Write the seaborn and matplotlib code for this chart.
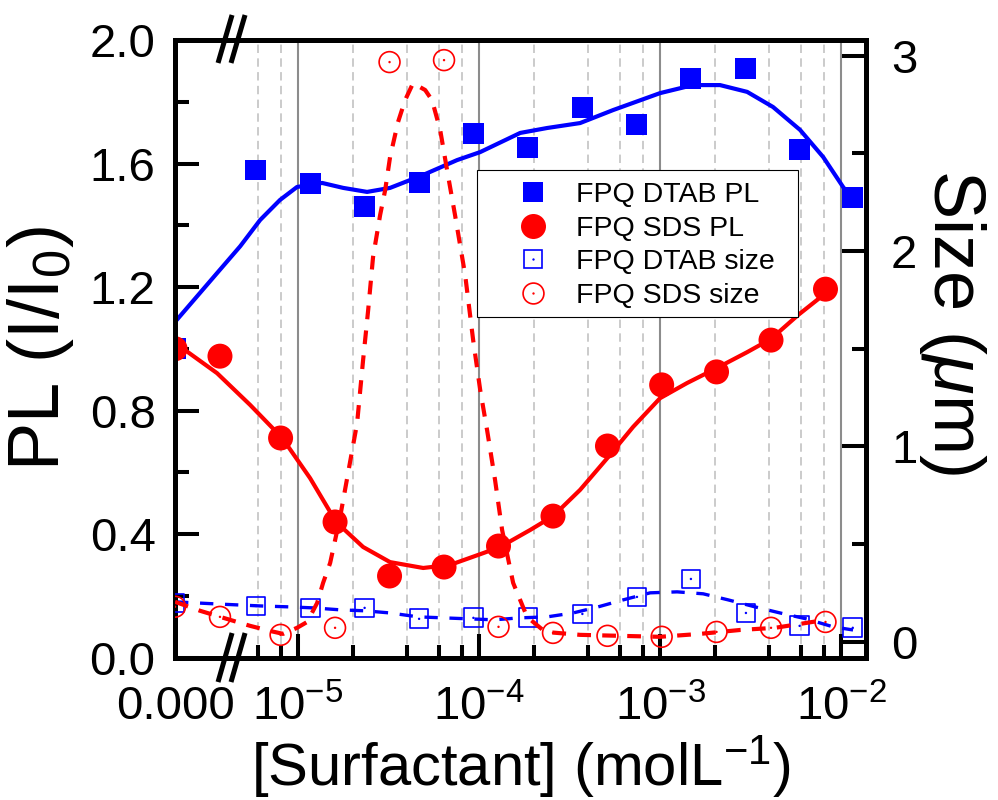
import numpy as np
import matplotlib.pyplot as plt
import matplotlib.ticker as mticker
from matplotlib.lines import Line2D
from matplotlib.patches import Rectangle
import seaborn as sns

# surfactant concentration (mol/L), 0 = no surfactant
dtab_conc = [0, 5.85e-6, 1.17e-5, 2.33e-5, 4.66e-5, 9.3e-5, 1.86e-4, 3.72e-4,
             7.45e-4, 1.48e-3, 2.98e-3, 5.9e-3, 1.16e-2]
sds_conc = [0, 3.7e-6, 8.0e-6, 1.6e-5, 3.2e-5, 6.4e-5, 1.28e-4, 2.56e-4,
            5.12e-4, 1.02e-3, 2.05e-3, 4.1e-3, 8.2e-3]

# PL (I/I0), left axis
dtab_pl = [1.00, 1.579, 1.534, 1.462, 1.537, 1.696, 1.653, 1.781, 1.725,
           1.874, 1.909, 1.644, 1.491]
sds_pl = [1.00, 0.976, 0.711, 0.439, 0.264, 0.293, 0.361, 0.458, 0.685,
          0.883, 0.925, 1.028, 1.193]

# particle size (um), right axis
dtab_size = [0.199, 0.184, 0.174, 0.174, 0.118, 0.123, 0.123, 0.143, 0.230,
             0.322, 0.148, 0.082, 0.072]
sds_size = [0.18, 0.128, 0.036, 0.072, 2.967, 2.977, 0.077, 0.046, 0.031,
            0.026, 0.051, 0.072, 0.102]

# fitted curves (log10 of concentration, value)
fit_dtab_pl_logc = [-5.68, -5.448, -5.320, -5.210, -5.100, -5.006, -4.867, -4.751,
                    -4.619, -4.492, -4.309, -4.122, -3.994, -3.773, -3.624, -3.442,
                    -3.260, -3.000, -2.818, -2.669, -2.519, -2.376, -2.227, -2.099,
                    -1.989, -1.923]
fit_dtab_pl = [1.087, 1.245, 1.332, 1.417, 1.482, 1.524, 1.537, 1.521, 1.508,
               1.521, 1.563, 1.611, 1.637, 1.699, 1.715, 1.731, 1.773, 1.828,
               1.854, 1.854, 1.832, 1.783, 1.709, 1.621, 1.524, 1.474]

fit_sds_pl_logc = [-5.68, -5.448, -5.265, -5.088, -4.934, -4.790, -4.641, -4.492,
                   -4.309, -4.160, -3.978, -3.884, -3.718, -3.591, -3.442, -3.287,
                   -3.149, -3.000, -2.851, -2.685, -2.519, -2.387, -2.238, -2.083]
fit_sds_pl = [1.019, 0.921, 0.818, 0.711, 0.581, 0.439, 0.358, 0.309, 0.290,
              0.300, 0.338, 0.358, 0.413, 0.458, 0.543, 0.649, 0.747, 0.840,
              0.889, 0.938, 0.989, 1.032, 1.109, 1.181]

fit_dtab_size_logc = [-5.68, -5.448, -5.210, -5.044, -4.917, -4.768, -4.630, -4.492,
                      -4.337, -4.199, -4.061, -3.917, -3.773, -3.624, -3.481, -3.343,
                      -3.204, -3.055, -2.906, -2.762, -2.624, -2.475, -2.337, -2.193,
                      -2.044, -1.934]
fit_dtab_size = [0.205, 0.194, 0.184, 0.179, 0.174, 0.164, 0.159, 0.148, 0.128,
                 0.123, 0.118, 0.113, 0.123, 0.128, 0.148, 0.179, 0.215, 0.251,
                 0.256, 0.246, 0.215, 0.179, 0.148, 0.118, 0.077, 0.061]

fit_sds_size_logc = [-5.68, -5.541, -5.431, -5.265, -5.155, -5.083, -5.006, -4.950,
                     -4.895, -4.862, -4.823, -4.768, -4.724, -4.674, -4.641, -4.613,
                     -4.586, -4.547, -4.519, -4.492, -4.448, -4.409, -4.365, -4.298,
                     -4.260, -4.215, -4.177, -4.133, -4.077, -4.033, -3.994, -3.956,
                     -3.912, -3.873, -3.812, -3.735, -3.635, -3.442, -3.221, -3.000,
                     -2.779, -2.558, -2.365, -2.227, -2.083]
fit_sds_size = [0.205, 0.159, 0.128, 0.082, 0.056, 0.041, 0.072, 0.102, 0.199,
                0.302, 0.404, 0.639, 0.864, 1.120, 1.442, 1.698, 1.969, 2.184,
                2.312, 2.481, 2.660, 2.772, 2.859, 2.824, 2.772, 2.619, 2.414,
                2.184, 1.877, 1.545, 1.289, 1.084, 0.829, 0.573, 0.302, 0.128,
                0.051, 0.036, 0.031, 0.026, 0.041, 0.061, 0.072, 0.092, 0.113]

x_major = [1e-5, 1e-4, 1e-3, 1e-2]
x_major_labels = ['0.000', '$10^{-5}$', '$10^{-4}$', '$10^{-3}$', '$10^{-2}$']
x_minor = [6e-6, 8e-6, 2e-5, 4e-5, 6e-5, 8e-5, 2e-4, 4e-4, 6e-4, 8e-4,
           2e-3, 4e-3, 6e-3, 8e-3]

# the "0.000" point sits at the left end of the log axis (broken axis)
X_ZERO = 10 ** -5.68
X_MAX = 10 ** -1.862

BLUE = '#0000ff'
RED = '#ff0000'


def on_axis(conc):
    conc = np.asarray(conc, dtype=float)
    return np.where(conc > 0, conc, X_ZERO)


def from_log(logc):
    return 10 ** np.asarray(logc, dtype=float)


sns.set_theme(style='ticks')
plt.rcParams['font.family'] = ['Liberation Sans', 'DejaVu Sans']
plt.rcParams['mathtext.fontset'] = 'custom'
plt.rcParams['mathtext.rm'] = 'Liberation Sans'
plt.rcParams['mathtext.it'] = 'Liberation Sans:italic'
plt.rcParams['mathtext.bf'] = 'Liberation Sans:bold'
for key in ['text.color', 'axes.labelcolor', 'xtick.color', 'ytick.color',
            'xtick.labelcolor', 'ytick.labelcolor', 'axes.edgecolor']:
    plt.rcParams[key] = 'black'

fig = plt.figure(figsize=(9.98, 8), dpi=100)
ax = fig.add_axes([0.1754, 0.1781, 0.6924, 0.7719])
ax.set_xscale('log')
ax2 = ax.twinx()

# left axis: PL
sns.lineplot(x=from_log(fit_dtab_pl_logc), y=fit_dtab_pl, ax=ax, color=BLUE,
             lw=3, sort=False, estimator=None, zorder=2)
sns.scatterplot(x=on_axis(dtab_conc), y=dtab_pl, ax=ax, marker='s', s=228,
                color=BLUE, edgecolor='none', linewidth=0, zorder=3)
sns.lineplot(x=from_log(fit_sds_pl_logc), y=fit_sds_pl, ax=ax, color=RED,
             lw=3, sort=False, estimator=None, zorder=4)
sns.scatterplot(x=on_axis(sds_conc), y=sds_pl, ax=ax, marker='o', s=324,
                color=RED, edgecolor='none', linewidth=0, zorder=5)

# right axis: size
sns.lineplot(x=from_log(fit_dtab_size_logc), y=fit_dtab_size, ax=ax2, color=BLUE,
             lw=2.4, linestyle=(0, (4, 3.5)), sort=False, estimator=None, zorder=2)
sns.scatterplot(x=on_axis(dtab_conc), y=dtab_size, ax=ax2, marker='s', s=182,
                facecolor='none', edgecolor=BLUE, linewidth=1.2, zorder=3)
sns.scatterplot(x=on_axis(dtab_conc), y=dtab_size, ax=ax2, marker='o', s=3,
                color=BLUE, edgecolor='none', linewidth=0, zorder=3)
sns.lineplot(x=from_log(fit_sds_size_logc), y=fit_sds_size, ax=ax2, color=RED,
             lw=3, linestyle=(0, (3.3, 2.7)), sort=False, estimator=None, zorder=4)
sns.scatterplot(x=on_axis(sds_conc), y=sds_size, ax=ax2, marker='o', s=225,
                facecolor='none', edgecolor=RED, linewidth=1.2, zorder=5)
sns.scatterplot(x=on_axis(sds_conc), y=sds_size, ax=ax2, marker='o', s=3,
                color=RED, edgecolor='none', linewidth=0, zorder=5)

ax.set_xlim(X_ZERO, X_MAX)
ax.set_ylim(0, 2.0)
ax2.set_ylim(-0.08, 3.08)

ax.xaxis.set_major_locator(mticker.FixedLocator([X_ZERO] + x_major))
ax.xaxis.set_major_formatter(mticker.FixedFormatter(x_major_labels))
ax.xaxis.set_minor_locator(mticker.FixedLocator(x_minor))
ax.xaxis.set_minor_formatter(mticker.NullFormatter())
ax.yaxis.set_major_locator(mticker.MultipleLocator(0.4))
ax.yaxis.set_minor_locator(mticker.MultipleLocator(0.2))
ax.yaxis.set_major_formatter(mticker.FormatStrFormatter('%.1f'))
ax2.yaxis.set_major_locator(mticker.MultipleLocator(1))
ax2.yaxis.set_minor_locator(mticker.MultipleLocator(0.5))

ax.grid(True, which='major', axis='x', color='#8c8c8c', lw=1.5, ls='-')
ax.grid(True, which='minor', axis='x', color='#bdbdbd', lw=1.1, ls=(0, (5.5, 3.5)))
ax.grid(False, axis='y')
ax2.grid(False)

for a in (ax, ax2):
    for sp in a.spines.values():
        sp.set_visible(True)
        sp.set_linewidth(3.6)
        sp.set_color('black')

ax.tick_params(axis='x', which='major', direction='in', length=17, width=2.9,
               pad=20, labelsize=34, top=False)
ax.tick_params(axis='x', which='minor', direction='in', length=9.5, width=2.9,
               top=False)
ax.tick_params(axis='y', which='major', direction='in', length=17.5, width=2.9,
               pad=14, labelsize=34, right=False)
ax.tick_params(axis='y', which='minor', direction='in', length=10, width=2.9,
               right=False)
ax2.tick_params(axis='y', which='major', direction='in', length=17.5, width=2.9,
                pad=18, labelsize=34)
ax2.tick_params(axis='y', which='minor', direction='in', length=10, width=2.9)

ax.set_xlabel('[Surfactant] (molL$^{-1}$)', fontsize=43, va='center')
ax.xaxis.set_label_coords(0.5, -0.176)
ax.set_ylabel('PL (I/I$_0$)', fontsize=52, va='center', ha='center')
ax.yaxis.set_label_coords(-0.195, 0.5)
ax2.set_ylabel('Size ($\\mu$m)', fontsize=52, rotation=-90, va='center', ha='center')
ax2.yaxis.set_label_coords(1.1245, 0.543)

# axis break marks
for x_top, x_bot in [(0.0825, 0.0622), (0.1013, 0.081)]:
    for y_top, y_bot in [(1.0405, 0.9628), (0.0397, -0.0397)]:
        ax2.plot([x_bot, x_top], [y_bot, y_top], color='black', lw=3.6,
                 transform=ax2.transAxes, clip_on=False, zorder=10,
                 solid_capstyle='butt')

# legend with its own box
ax2.add_patch(Rectangle((0.437, 0.551), 0.4645, 0.238, transform=ax2.transAxes,
                        facecolor='white', edgecolor='black', lw=0.8, zorder=6))
handles = [
    Line2D([], [], ls='none', marker='s', markersize=15.1, color=BLUE, markeredgewidth=0),
    Line2D([], [], ls='none', marker='o', markersize=18, color=RED, markeredgewidth=0),
    (Line2D([], [], ls='none', marker='s', markersize=13.5, markerfacecolor='none',
            markeredgecolor=BLUE, markeredgewidth=1.2),
     Line2D([], [], ls='none', marker='o', markersize=1.7, color=BLUE, markeredgewidth=0)),
    (Line2D([], [], ls='none', marker='o', markersize=15, markerfacecolor='none',
            markeredgecolor=RED, markeredgewidth=1.2),
     Line2D([], [], ls='none', marker='o', markersize=1.7, color=RED, markeredgewidth=0)),
]
labels = ['FPQ DTAB PL', 'FPQ SDS PL', 'FPQ DTAB size', 'FPQ SDS size']
leg = ax2.legend(handles, labels, loc='upper left', bbox_to_anchor=(0.498, 0.770),
                 frameon=False, fontsize=20.5, borderpad=0, borderaxespad=0,
                 handlelength=1.0, handletextpad=1.0, labelspacing=0.27,
                 numpoints=1)
leg.set_zorder(7)

fig.savefig('out.png', dpi=100)
